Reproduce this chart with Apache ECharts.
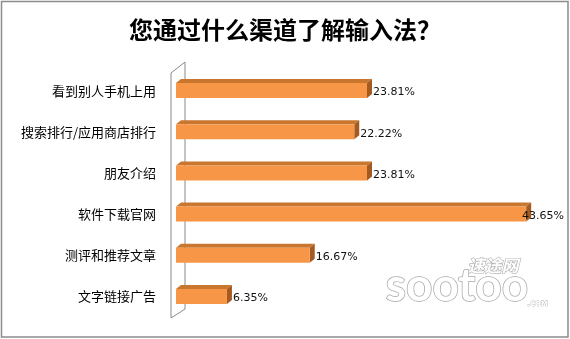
<!DOCTYPE html>
<html>
<head>
<meta charset="utf-8">
<script src="https://cdn.jsdelivr.net/npm/echarts@6/dist/echarts.min.js"></script>
<style>
html,body{margin:0;padding:0;background:#fff;}
#chart{width:570px;height:339px;}
</style>
</head>
<body>
<div id="chart"></div>
<script>
var titleText = '您通过什么渠道了解输入法？';
var categories = ['看到别人手机上用', '搜索排行/应用商店排行', '朋友介绍', '软件下载官网', '测评和推荐文章', '文字链接广告'];
var values = [23.81, 22.22, 23.81, 43.65, 16.67, 6.35];
var valueLabels = ['23.81%', '22.22%', '23.81%', '43.65%', '16.67%', '6.35%'];

var chart = echarts.init(document.getElementById('chart'), null, {renderer: 'canvas'});

var barData = values.map(function (v, i) { return [v, i]; });

function renderBar(params, api) {
  var v = api.value(0), c = api.value(1);
  var end = api.coord([v, c]);
  var start = api.coord([0, c]);
  var h = 15, dx = 5, dy = 4;
  var x0 = start[0], x1 = end[0];
  var y0 = end[1] - h / 2;
  var label = valueLabels[params.dataIndex];
  var lx = x1 + 6;
  var limit = api.getWidth() - 6;
  var align = 'left';
  if (lx + 42 > limit) { lx = limit; align = 'right'; }
  return {
    type: 'group',
    children: [
      {type: 'polygon', shape: {points: [[x0, y0], [x0 + dx, y0 - dy], [x1 + dx, y0 - dy], [x1, y0]]},
        style: {fill: '#C9772F'}},
      {type: 'polygon', shape: {points: [[x1, y0], [x1 + dx, y0 - dy], [x1 + dx, y0 + h - dy], [x1, y0 + h]]},
        style: {fill: '#A35B22'}},
      {type: 'rect', shape: {x: x0, y: y0, width: x1 - x0, height: h},
        style: {fill: '#F79646'}},
      {type: 'text', style: {text: label, x: lx, y: end[1] + 2, align: align, verticalAlign: 'middle',
        fill: '#111', font: '11px "DejaVu Sans"'}, z2: 10}
    ]
  };
}

function renderWall(params, api) {
  var cs = params.coordSys;
  var fx = cs.x - 5, bx = cs.x + 9;
  var pts = [[fx, cs.y + 3], [bx, cs.y - 8], [bx, cs.y + cs.height - 8], [fx, cs.y + cs.height + 1]];
  return {
    type: 'polygon',
    shape: {points: pts},
    style: {fill: '#ffffff', stroke: '#8a8a8a', lineWidth: 1}
  };
}

chart.setOption({
  animation: false,
  backgroundColor: '#ffffff',
  title: {
    text: titleText,
    left: 'center',
    top: 13,
    textStyle: {fontSize: 24, fontWeight: 'bold', color: '#000', fontFamily: '"Noto Sans CJK SC"'}
  },
  grid: {left: 176, top: 70, height: 247, width: 361},
  xAxis: {type: 'value', min: 0, max: 45, show: false, splitLine: {show: false}},
  yAxis: {
    type: 'category', data: categories, inverse: true,
    axisLine: {show: false}, axisTick: {show: false},
    axisLabel: {margin: 20, fontSize: 13, color: '#000', fontFamily: '"Noto Sans CJK SC"'}
  },
  graphic: [
    {type: 'rect', shape: {x: 1.5, y: 1.5, width: 566.5, height: 335.5},
      style: {fill: 'none', stroke: '#8c8c8c', lineWidth: 1.5}, z: -10, silent: true},
    {type: 'text', left: 467, top: 256, z: -5,
      style: {text: '速途网', font: 'italic bold 17px "Noto Sans CJK SC"', fill: '#ffffff', stroke: '#b0b0b0', lineWidth: 1.2}},
    {type: 'text', left: 385, top: 262, z: -5,
      style: {text: 'sootoo', font: 'bold 46px Lato', fill: '#ffffff', stroke: '#a8a8a8', lineWidth: 1.5}},
    {type: 'text', left: 527, top: 300, z: -5,
      style: {text: '.COM', font: 'bold 7px "DejaVu Sans"', fill: '#ffffff', stroke: '#a8a8a8', lineWidth: 0.6}}
  ],
  series: [
    {type: 'custom', name: 'wall', renderItem: renderWall, data: [[0, 0]], encode: {x: 0, y: 1}, z: 1, silent: true},
    {type: 'custom', name: 'bars', renderItem: renderBar, data: barData, encode: {x: 0, y: 1}, z: 2}
  ]
});
</script>
</body>
</html>
